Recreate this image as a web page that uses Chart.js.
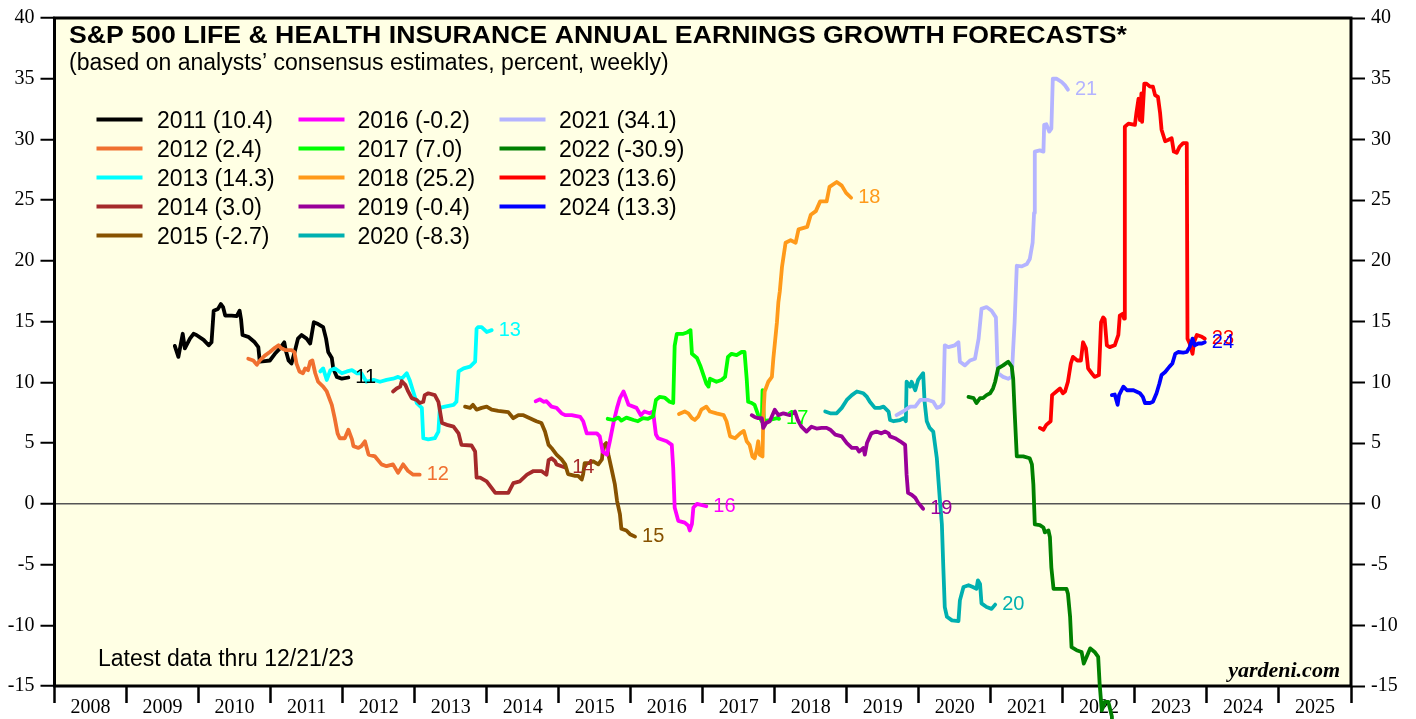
<!DOCTYPE html>
<html>
<head>
<meta charset="utf-8">
<script src="https://cdn.jsdelivr.net/npm/chart.js@4.4.0/dist/chart.umd.min.js"></script>
<style>
  html, body { margin: 0; padding: 0; background: #fff; }
</style>
</head>
<body>
<canvas id="chart" width="1416" height="719"></canvas>
<script>
// forecast years, latest values and colours
const forecastYears = ['2011','2012','2013','2014','2015','2016','2017','2018','2019','2020','2021','2022','2023','2024'];
const latestValues = [10.4, 2.4, 14.3, 3.0, -2.7, -0.2, 7.0, 25.2, -0.4, -8.3, 34.1, -30.9, 13.6, 13.3];
const endLabels = ['11','12','13','14','15','16','17','18','19','20','21','22','23','24'];
const lineColors = ['#000000','#F07030','#00FFFF','#A52A2A','#875200','#FF00FF','#00FF00',
                    '#FF9A1A','#990099','#00B0B0','#B4B4FF','#008000','#FF0000','#0000FF'];
const axisYears = [2008,2009,2010,2011,2012,2013,2014,2015,2016,2017,2018,2019,2020,2021,2022,2023,2024,2025];
const yTickValues = [-15,-10,-5,0,5,10,15,20,25,30,35,40];

// weekly series: [year, percent]
const s2011 = [[2009.67,13.0],[2009.72,12.1],[2009.78,14.0],[2009.81,12.8],[2009.88,13.6],[2009.93,14.0],[2009.97,13.9],[2010.07,13.5],[2010.14,13.05],[2010.18,13.3],[2010.21,15.9],[2010.27,16.05],[2010.31,16.45],[2010.34,16.2],[2010.37,15.5],[2010.46,15.5],[2010.53,15.45],[2010.57,15.9],[2010.59,15.2],[2010.61,13.9],[2010.69,13.75],[2010.78,13.3],[2010.83,12.9],[2010.85,11.7],[2010.92,11.75],[2010.99,11.8],[2011.06,12.35],[2011.13,12.8],[2011.19,13.3],[2011.21,12.65],[2011.25,11.8],[2011.29,11.55],[2011.34,12.65],[2011.38,13.6],[2011.43,13.9],[2011.50,13.6],[2011.55,13.2],[2011.57,13.9],[2011.60,14.95],[2011.66,14.8],[2011.73,14.55],[2011.77,13.6],[2011.80,12.5],[2011.85,12.0],[2011.87,11.15],[2011.92,10.45],[2011.99,10.3],[2012.08,10.4]];
const s2012 = [[2010.69,11.95],[2010.76,11.8],[2010.81,11.45],[2010.85,11.8],[2010.92,12.2],[2010.99,12.5],[2011.06,12.85],[2011.11,13.05],[2011.15,12.8],[2011.21,12.65],[2011.29,12.65],[2011.33,12.5],[2011.36,11.55],[2011.40,10.9],[2011.45,10.75],[2011.48,11.15],[2011.52,11.0],[2011.55,11.7],[2011.58,11.8],[2011.62,10.75],[2011.66,10.05],[2011.73,9.65],[2011.78,9.25],[2011.85,8.15],[2011.89,7.05],[2011.93,5.8],[2011.96,5.4],[2012.03,5.4],[2012.08,6.1],[2012.13,5.3],[2012.15,4.75],[2012.22,4.6],[2012.26,4.75],[2012.31,5.15],[2012.36,4.05],[2012.45,3.9],[2012.54,3.25],[2012.61,3.1],[2012.70,3.25],[2012.77,2.55],[2012.84,3.25],[2012.91,2.7],[2012.98,2.4],[2013.07,2.4]];
const s2013 = [[2011.69,10.9],[2011.73,11.15],[2011.78,10.2],[2011.83,11.0],[2011.89,11.15],[2011.99,10.75],[2012.06,10.9],[2012.13,11.0],[2012.20,10.75],[2012.26,10.75],[2012.33,10.05],[2012.43,10.2],[2012.52,10.05],[2012.61,10.2],[2012.70,10.3],[2012.77,10.45],[2012.82,10.3],[2012.89,10.75],[2012.93,10.2],[2012.98,9.25],[2013.03,8.3],[2013.10,7.9],[2013.12,5.4],[2013.19,5.3],[2013.28,5.4],[2013.33,5.95],[2013.35,7.9],[2013.42,8.0],[2013.54,8.15],[2013.58,8.4],[2013.61,10.9],[2013.68,11.15],[2013.77,11.3],[2013.84,11.7],[2013.86,14.4],[2013.88,14.55],[2013.93,14.55],[2014.00,14.15],[2014.07,14.3]];
const s2014 = [[2012.70,9.25],[2012.75,9.5],[2012.80,9.65],[2012.82,10.1],[2012.87,9.8],[2012.91,9.25],[2012.96,8.7],[2013.03,8.55],[2013.07,8.3],[2013.12,8.4],[2013.14,8.95],[2013.19,9.1],[2013.28,8.95],[2013.33,8.4],[2013.38,6.65],[2013.45,6.5],[2013.54,6.35],[2013.61,5.8],[2013.65,4.85],[2013.79,4.8],[2013.84,4.3],[2013.86,2.15],[2013.91,2.15],[2014.00,1.85],[2014.12,0.9],[2014.30,0.9],[2014.37,1.7],[2014.46,1.85],[2014.56,2.4],[2014.65,2.7],[2014.76,2.7],[2014.83,2.4],[2014.86,3.6],[2014.90,3.75],[2014.95,3.5],[2014.97,3.25],[2015.04,3.1],[2015.09,3.0]];
const s2015 = [[2013.70,8.0],[2013.77,7.9],[2013.81,8.15],[2013.86,7.75],[2013.93,7.9],[2014.00,8.0],[2014.07,7.75],[2014.16,7.65],[2014.30,7.55],[2014.37,7.05],[2014.44,7.3],[2014.51,7.3],[2014.60,7.05],[2014.69,6.8],[2014.76,6.65],[2014.81,5.95],[2014.86,4.85],[2014.90,4.6],[2014.97,4.05],[2015.04,3.65],[2015.09,3.25],[2015.13,2.45],[2015.23,2.3],[2015.27,2.3],[2015.32,2.0],[2015.34,2.45],[2015.36,3.35],[2015.43,3.35],[2015.48,3.5],[2015.55,3.25],[2015.60,3.65],[2015.62,4.75],[2015.66,5.0],[2015.69,4.05],[2015.74,2.7],[2015.78,1.6],[2015.81,0.25],[2015.85,-0.85],[2015.87,-2.05],[2015.94,-2.2],[2015.99,-2.5],[2016.06,-2.7]];
const s2016 = [[2014.68,8.45],[2014.74,8.6],[2014.79,8.4],[2014.83,8.45],[2014.90,8.0],[2014.97,7.9],[2015.04,7.45],[2015.09,7.3],[2015.18,7.3],[2015.30,7.15],[2015.34,6.8],[2015.39,5.8],[2015.53,5.8],[2015.57,5.55],[2015.61,4.3],[2015.67,4.05],[2015.71,5.15],[2015.76,6.65],[2015.81,7.9],[2015.85,8.7],[2015.90,9.25],[2015.93,8.8],[2015.97,8.15],[2016.08,7.9],[2016.14,7.3],[2016.19,7.6],[2016.26,7.45],[2016.31,7.6],[2016.35,5.7],[2016.38,5.4],[2016.50,5.15],[2016.57,4.85],[2016.59,2.95],[2016.61,-0.3],[2016.66,-1.4],[2016.75,-1.55],[2016.80,-1.8],[2016.82,-2.2],[2016.85,-1.65],[2016.87,-0.3],[2016.92,0.0],[2017.05,-0.2]];
const s2017 = [[2015.68,7.0],[2015.76,6.9],[2015.83,7.1],[2015.87,6.85],[2015.94,7.1],[2016.04,6.9],[2016.10,6.8],[2016.17,7.05],[2016.24,7.0],[2016.31,7.2],[2016.35,8.55],[2016.40,8.8],[2016.47,8.75],[2016.54,8.4],[2016.59,8.3],[2016.61,13.0],[2016.64,14.0],[2016.73,14.0],[2016.78,14.1],[2016.83,14.3],[2016.85,12.35],[2016.92,12.0],[2016.97,11.3],[2017.01,10.6],[2017.05,9.9],[2017.08,9.65],[2017.10,10.3],[2017.19,10.05],[2017.26,10.2],[2017.31,10.45],[2017.35,12.1],[2017.40,12.35],[2017.47,12.25],[2017.54,12.5],[2017.58,12.5],[2017.61,10.3],[2017.63,8.4],[2017.68,8.3],[2017.72,8.15],[2017.77,7.3],[2017.82,6.8],[2017.83,9.35],[2017.85,6.8],[2017.93,6.9],[2018.03,7.05],[2018.06,7.0]];
const s2018 = [[2016.67,7.4],[2016.75,7.6],[2016.80,7.45],[2016.85,7.05],[2016.89,6.9],[2016.94,7.2],[2016.98,7.75],[2017.05,8.0],[2017.10,7.6],[2017.19,7.45],[2017.29,7.3],[2017.33,6.8],[2017.38,5.55],[2017.45,5.4],[2017.52,5.8],[2017.57,6.0],[2017.61,5.15],[2017.65,4.85],[2017.69,3.9],[2017.72,3.75],[2017.75,4.45],[2017.77,5.15],[2017.79,4.05],[2017.83,3.9],[2017.84,7.05],[2017.86,9.25],[2017.91,10.05],[2017.96,10.45],[2017.98,11.95],[2018.03,14.95],[2018.05,16.6],[2018.07,17.5],[2018.10,19.5],[2018.15,21.5],[2018.22,21.7],[2018.29,21.5],[2018.33,22.6],[2018.45,22.8],[2018.50,23.8],[2018.57,24.1],[2018.63,24.9],[2018.72,24.9],[2018.76,26.1],[2018.86,26.5],[2018.93,26.2],[2018.99,25.6],[2019.06,25.2]];
const s2019 = [[2017.68,7.3],[2017.72,7.15],[2017.77,7.05],[2017.82,7.05],[2017.84,6.25],[2017.88,6.65],[2017.93,6.8],[2018.00,7.75],[2018.05,7.3],[2018.12,7.45],[2018.21,7.3],[2018.28,7.6],[2018.32,6.9],[2018.37,6.35],[2018.44,5.95],[2018.51,6.35],[2018.58,6.2],[2018.65,6.25],[2018.72,6.25],[2018.77,6.1],[2018.84,5.7],[2018.93,5.55],[2019.00,5.0],[2019.07,4.6],[2019.14,4.6],[2019.17,4.3],[2019.23,4.6],[2019.25,4.05],[2019.28,5.0],[2019.34,5.8],[2019.41,5.95],[2019.48,5.8],[2019.53,5.95],[2019.58,5.8],[2019.60,5.55],[2019.67,5.4],[2019.74,5.15],[2019.81,4.85],[2019.83,2.4],[2019.85,0.9],[2019.90,0.75],[2019.95,0.5],[2019.99,0.1],[2020.06,-0.4]];
const s2020 = [[2018.70,7.6],[2018.77,7.45],[2018.86,7.45],[2018.93,7.9],[2019.00,8.55],[2019.07,8.95],[2019.14,9.25],[2019.23,9.1],[2019.28,8.8],[2019.32,8.4],[2019.39,7.9],[2019.46,7.9],[2019.51,8.0],[2019.58,7.6],[2019.60,6.9],[2019.65,6.8],[2019.74,6.9],[2019.79,7.05],[2019.82,6.8],[2019.83,10.05],[2019.88,9.65],[2019.90,10.05],[2019.95,9.35],[2019.99,10.2],[2020.06,10.75],[2020.08,8.4],[2020.11,6.8],[2020.15,6.25],[2020.20,5.95],[2020.25,3.75],[2020.29,0.5],[2020.32,-1.7],[2020.34,-5.25],[2020.36,-8.5],[2020.39,-9.3],[2020.46,-9.6],[2020.55,-9.65],[2020.57,-7.95],[2020.62,-6.85],[2020.69,-6.7],[2020.75,-6.85],[2020.80,-7.0],[2020.82,-6.3],[2020.85,-6.6],[2020.87,-8.2],[2020.94,-8.5],[2021.01,-8.65],[2021.06,-8.3]];
const s2021 = [[2019.69,7.3],[2019.78,7.6],[2019.88,8.0],[2019.95,8.0],[2020.02,8.55],[2020.13,8.55],[2020.20,8.4],[2020.25,7.9],[2020.30,8.0],[2020.34,8.3],[2020.36,13.05],[2020.41,12.9],[2020.50,13.05],[2020.55,13.3],[2020.57,11.7],[2020.64,11.4],[2020.71,11.8],[2020.78,11.95],[2020.83,13.6],[2020.87,16.05],[2020.94,16.2],[2021.01,15.9],[2021.07,15.35],[2021.09,11.7],[2021.10,10.75],[2021.17,10.45],[2021.24,10.3],[2021.29,10.45],[2021.31,12.8],[2021.33,14.95],[2021.36,19.6],[2021.43,19.55],[2021.50,19.75],[2021.54,20.15],[2021.58,21.5],[2021.60,23.95],[2021.61,29.0],[2021.68,29.1],[2021.73,29.0],[2021.74,31.2],[2021.77,31.25],[2021.81,30.65],[2021.84,30.9],[2021.86,35.0],[2021.91,35.0],[2021.98,34.75],[2022.03,34.45],[2022.07,34.1]];
const s2022 = [[2020.69,8.8],[2020.76,8.7],[2020.80,8.3],[2020.85,8.7],[2020.89,8.7],[2020.94,8.95],[2020.99,9.1],[2021.03,9.5],[2021.06,10.05],[2021.10,11.15],[2021.17,11.4],[2021.24,11.7],[2021.29,11.3],[2021.31,10.3],[2021.33,7.6],[2021.36,3.9],[2021.45,3.9],[2021.54,3.75],[2021.57,3.25],[2021.59,1.6],[2021.61,-1.7],[2021.68,-1.75],[2021.73,-1.95],[2021.75,-2.35],[2021.80,-2.2],[2021.82,-2.75],[2021.84,-5.25],[2021.87,-7.0],[2021.96,-7.0],[2022.05,-7.0],[2022.07,-7.4],[2022.10,-9.3],[2022.12,-11.8],[2022.19,-12.05],[2022.26,-12.2],[2022.29,-13.15],[2022.33,-12.6],[2022.38,-11.9],[2022.44,-12.2],[2022.49,-12.6],[2022.51,-14.8],[2022.54,-17.0],[2022.58,-16.3],[2022.63,-16.3],[2022.68,-17.5],[2022.75,-30.9]];
const s2023 = [[2021.68,6.25],[2021.73,6.1],[2021.77,6.5],[2021.83,6.8],[2021.85,8.95],[2021.91,9.25],[2021.96,9.5],[2022.00,9.1],[2022.03,9.25],[2022.07,10.05],[2022.11,11.55],[2022.14,12.1],[2022.20,11.8],[2022.25,11.8],[2022.28,13.3],[2022.32,12.8],[2022.35,11.15],[2022.40,10.75],[2022.44,10.45],[2022.50,10.6],[2022.53,14.95],[2022.56,15.35],[2022.58,15.2],[2022.61,13.05],[2022.65,12.9],[2022.72,13.05],[2022.77,13.9],[2022.79,15.5],[2022.83,15.65],[2022.85,15.25],[2022.86,31.05],[2022.91,31.3],[2023.00,31.2],[2023.02,32.15],[2023.05,33.35],[2023.07,31.6],[2023.09,33.8],[2023.10,31.45],[2023.13,34.6],[2023.16,34.6],[2023.21,34.35],[2023.25,34.35],[2023.28,33.65],[2023.32,33.5],[2023.35,32.15],[2023.37,30.8],[2023.42,29.85],[2023.46,29.95],[2023.51,30.1],[2023.54,29.0],[2023.58,28.9],[2023.62,29.4],[2023.67,29.7],[2023.72,29.7],[2023.73,13.6],[2023.76,13.2],[2023.80,12.35],[2023.82,13.3],[2023.86,13.9],[2023.93,13.75],[2023.97,13.6]];
const s2024 = [[2022.68,8.95],[2022.72,9.0],[2022.76,8.15],[2022.78,8.95],[2022.84,9.65],[2022.89,9.35],[2022.98,9.35],[2023.07,9.1],[2023.11,8.8],[2023.14,8.3],[2023.21,8.3],[2023.25,8.4],[2023.30,9.1],[2023.34,9.9],[2023.37,10.6],[2023.42,10.85],[2023.48,11.3],[2023.52,11.55],[2023.56,12.35],[2023.60,12.5],[2023.67,12.45],[2023.72,12.5],[2023.76,12.9],[2023.80,13.6],[2023.83,13.05],[2023.88,13.2],[2023.93,13.2],[2023.97,13.3]];

const allSeries = [s2011,s2012,s2013,s2014,s2015,s2016,s2017,s2018,s2019,s2020,s2021,s2022,s2023,s2024];

const sans = '"Liberation Sans", Arial, sans-serif';
const serif = '"Liberation Serif", "Times New Roman", serif';

// yellow panel + frame
const panelPlugin = {
  id: 'panel',
  beforeDraw(chart) {
    const { ctx, chartArea: a } = chart;
    ctx.save();
    ctx.fillStyle = '#FFFFE4';
    ctx.fillRect(a.left, a.top, a.right - a.left, a.bottom - a.top);
    ctx.restore();
  },
  beforeDatasetsDraw(chart) {
    const { ctx, chartArea: a } = chart;
    ctx.save();
    ctx.strokeStyle = '#000';
    ctx.lineWidth = 3;
    ctx.strokeRect(a.left, a.top, a.right - a.left, a.bottom - a.top);
    ctx.restore();
  }
};

// short year tag at the end of every line
const endLabelPlugin = {
  id: 'endLabels',
  afterDatasetsDraw(chart) {
    const ctx = chart.ctx;
    ctx.save();
    ctx.font = '20px ' + sans;
    ctx.textBaseline = 'middle';
    ctx.textAlign = 'left';
    chart.data.datasets.forEach((ds, i) => {
      const pts = chart.getDatasetMeta(i).data;
      const last = pts[pts.length - 1];
      ctx.fillStyle = lineColors[i];
      ctx.fillText(endLabels[i], last.x + 7, last.y);
    });
    ctx.restore();
  }
};

// titles, legend, notes
const textPlugin = {
  id: 'texts',
  afterDraw(chart) {
    const ctx = chart.ctx;
    ctx.save();
    ctx.fillStyle = '#000';
    ctx.textBaseline = 'alphabetic';
    ctx.textAlign = 'left';

    const title = 'S&P 500 LIFE & HEALTH INSURANCE ANNUAL EARNINGS GROWTH FORECASTS*';
    ctx.font = 'bold 24px ' + sans;
    const tw = ctx.measureText(title).width;
    ctx.save();
    ctx.translate(69, 43);
    ctx.scale(1058 / tw, 1);
    ctx.fillText(title, 0, 0);
    ctx.restore();

    ctx.font = '23px ' + sans;
    ctx.fillText('(based on analysts\u2019 consensus estimates, percent, weekly)', 69, 70);

    // legend, 5 rows per column
    const cols = [{ sx: 96.5, tx: 157 }, { sx: 298.5, tx: 357.5 }, { sx: 499.5, tx: 559 }];
    forecastYears.forEach((yr, i) => {
      const c = cols[Math.floor(i / 5)];
      const y = 119.5 + 29 * (i % 5);
      ctx.strokeStyle = lineColors[i];
      ctx.lineWidth = 4;
      ctx.beginPath();
      ctx.moveTo(c.sx, y);
      ctx.lineTo(c.sx + 46, y);
      ctx.stroke();
      ctx.fillStyle = '#000';
      ctx.fillText(yr + ' (' + latestValues[i].toFixed(1) + ')', c.tx, y + 8.3);
    });

    ctx.font = '23px ' + sans;
    ctx.fillText('Latest data thru 12/21/23', 98, 666);

    ctx.font = 'italic bold 22px ' + serif;
    ctx.textAlign = 'right';
    ctx.fillText('yardeni.com', 1340, 677);
    ctx.restore();
  }
};

const datasets = allSeries.map((s, i) => ({
  label: forecastYears[i],
  data: s.map(p => ({ x: p[0], y: p[1] })),
  borderColor: lineColors[i],
  borderWidth: 3.8,
  pointRadius: 0,
  tension: 0,
  borderJoinStyle: 'round',
  borderCapStyle: 'round',
  order: -i,
  clip: forecastYears[i] === '2022' ? false : undefined
}));

const yTickCommon = {
  font: { family: serif, size: 20 },
  color: '#000',
};

new Chart(document.getElementById('chart'), {
  type: 'line',
  data: { datasets: datasets },
  options: {
    responsive: false,
    animation: false,
    events: [],
    layout: { padding: { top: 14, left: 0, right: 0, bottom: 0 } },
    plugins: { legend: { display: false }, tooltip: { enabled: false } },
    scales: {
      x: {
        type: 'linear',
        min: 2008,
        max: 2026,
        afterBuildTicks: (scale) => {
          const t = [];
          axisYears.forEach(y => { t.push({ value: y }); t.push({ value: y + 0.5 }); });
          t.push({ value: 2026 });
          scale.ticks = t;
        },
        afterFit: (scale) => { scale.height = 33; },
        border: { display: false },
        grid: {
          drawOnChartArea: false,
          tickLength: 17,
          tickWidth: 2.5,
          tickColor: (c) => (Number.isInteger(c.tick.value) ? '#000' : 'rgba(0,0,0,0)')
        },
        ticks: {
          autoSkip: false,
          maxRotation: 0,
          minRotation: 0,
          padding: -7,
          font: { family: serif, size: 20 },
          color: '#000',
          callback: (v) => (Number.isInteger(v) ? '' : String(Math.floor(v)))
        }
      },
      y: {
        position: 'left',
        min: -15,
        max: 40,
        afterBuildTicks: (scale) => { scale.ticks = yTickValues.map(v => ({ value: v })); },
        afterFit: (scale) => { scale.width = 54.5; },
        border: { display: false },
        grid: {
          color: (c) => (c.tick && c.tick.value === 0 ? '#555' : 'rgba(0,0,0,0)'),
          lineWidth: 1.5,
          tickColor: '#000',
          tickWidth: 2,
          tickLength: 14
        },
        ticks: Object.assign({ padding: 6 }, yTickCommon)
      },
      y2: {
        position: 'right',
        min: -15,
        max: 40,
        afterBuildTicks: (scale) => { scale.ticks = yTickValues.map(v => ({ value: v })); },
        afterFit: (scale) => { scale.width = 65; },
        border: { display: false },
        grid: {
          drawOnChartArea: false,
          tickColor: '#000',
          tickWidth: 2,
          tickLength: 14
        },
        ticks: Object.assign({ padding: 6 }, yTickCommon)
      }
    }
  },
  plugins: [panelPlugin, endLabelPlugin, textPlugin]
});
</script>
</body>
</html>
